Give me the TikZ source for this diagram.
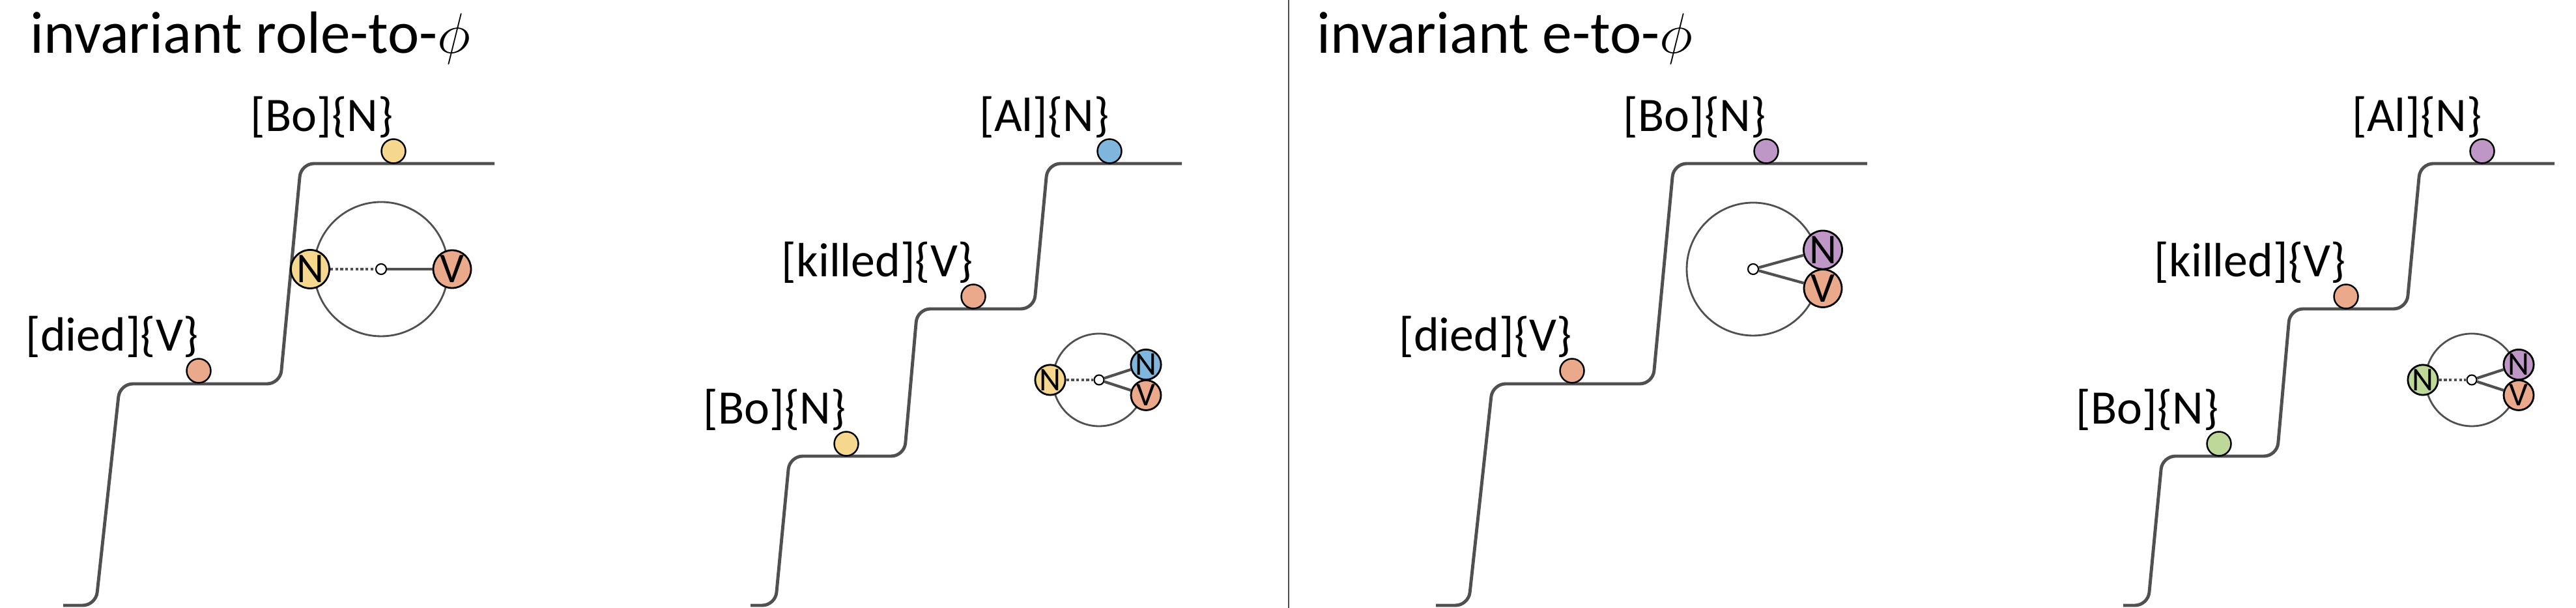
\documentclass[tikz,border=0pt]{standalone}
\usepackage{fontspec}
\setmainfont{Carlito}
\usetikzlibrary{positioning}
\definecolor{ballyellow}{HTML}{F5D88E}
\definecolor{ballorange}{HTML}{EBA98B}
\definecolor{ballblue}{HTML}{80B6DD}
\definecolor{ballpurple}{HTML}{BE97C6}
\definecolor{ballgreen}{HTML}{BDD899}
\definecolor{stairgray}{HTML}{505050}
\newcommand\ttlfont{\fontsize{26}{30}\selectfont}
\newcommand\lblfont{\fontsize{21}{24}\selectfont}
\newcommand\rolefont{\fontsize{18.5}{20}\selectfont}
\newcommand\rolesmfont{\fontsize{14.5}{16}\selectfont}
\tikzset{
  ttl/.style={font=\ttlfont, anchor=base west, inner sep=0},
  lbl/.style={font=\lblfont, anchor=south east, inner sep=0},
  stair/.style={draw=stairgray, line width=1.4pt, rounded corners=2mm},
  ball/.style={circle, draw=black, line width=0.7pt, minimum size=3.7mm, inner sep=0},
  ring/.style={circle, draw=stairgray, line width=0.8pt, inner sep=0},
  role/.style={circle, draw=black, line width=0.8pt, minimum size=5.8mm, inner sep=0, font=\rolefont},
  rolesm/.style={role, minimum size=4.6mm, font=\rolesmfont},
  hub/.style={circle, draw=black, fill=white, line width=0.6pt, minimum size=1.6mm, inner sep=0},
  spoke/.style={draw=stairgray, line width=1.2pt},
  tie/.style={spoke, dash pattern=on 1.2pt off 1pt},
  sep/.style={draw=black!70, line width=0.7pt},
}
\begin{document}
\begin{tikzpicture}
  \useasboundingbox (0,0) rectangle (39.54,9.33);
  \node[ttl] (t1) at (0.46,8.51) {invariant role-to-$\phi$};
  \node[ttl] (t2) at (20.21,8.51) {invariant e-to-$\phi$};
  \coordinate (s1) at (19.78,9.33);
  \coordinate (s2) at (19.78,0);
  \draw[sep] (s1) -- (s2);

  % role-to-phi, one verb
  \draw[stair] (0.97,0.04) -- (1.47,0.04) -- (1.84,3.44) -- (4.30,3.44) -- (4.62,6.82) -- (7.59,6.82);
  \node[ball, fill=ballorange] (a1) at (3.05,3.64) {};
  \node[lbl] (la1) at (a1.north) {[died]\{V\}};
  \node[ball, fill=ballyellow] (a2) at (6.04,7.01) {};
  \node[lbl] (la2) at (a2.north) {[Bo]\{N\}};
  \node[ring, minimum size=2.06cm] (r1) at (5.85,5.20) {};
  \node[hub] (h1) at (5.85,5.20) {};
  \node[role, fill=ballyellow] (n1) at (4.76,5.20) {N};
  \node[role, fill=ballorange] (v1) at (6.94,5.20) {V};
  \draw[tie] (n1) -- (h1);
  \draw[spoke] (h1) -- (v1);

  % role-to-phi, two nouns
  \draw[stair] (11.52,0.04) -- (11.90,0.04) -- (12.12,2.33) -- (13.88,2.33) -- (14.08,4.59) -- (15.87,4.59) -- (16.08,6.82) -- (18.14,6.82);
  \node[ball, fill=ballyellow] (b1) at (12.99,2.52) {};
  \node[lbl] (lb1) at (b1.north) {[Bo]\{N\}};
  \node[ball, fill=ballorange] (b2) at (14.94,4.78) {};
  \node[lbl] (lb2) at (b2.north) {[killed]\{V\}};
  \node[ball, fill=ballblue] (b3) at (17.03,7.01) {};
  \node[lbl] (lb3) at (b3.north) {[Al]\{N\}};
  \node[ring, minimum size=1.42cm] (r2) at (16.87,3.50) {};
  \node[hub, minimum size=1.5mm] (h2) at (16.87,3.50) {};
  \node[rolesm, fill=ballyellow] (n2) at (16.12,3.50) {N};
  \node[rolesm, fill=ballblue] (m2) at (17.59,3.735) {N};
  \node[rolesm, fill=ballorange] (v2) at (17.59,3.265) {V};
  \draw[tie] (n2) -- (h2);
  \draw[spoke] (h2) -- (m2);
  \draw[spoke] (h2) -- (v2);

  % e-to-phi, one verb
  \draw[stair] (22.04,0.04) -- (22.54,0.04) -- (22.91,3.44) -- (25.37,3.44) -- (25.69,6.82) -- (28.66,6.82);
  \node[ball, fill=ballorange] (c1) at (24.13,3.64) {};
  \node[lbl] (lc1) at (c1.north) {[died]\{V\}};
  \node[ball, fill=ballpurple] (c2) at (27.11,7.01) {};
  \node[lbl] (lc2) at (c2.north) {[Bo]\{N\}};
  \node[ring, minimum size=2.04cm] (r3) at (26.91,5.20) {};
  \node[hub] (h3) at (26.91,5.20) {};
  \node[role, fill=ballpurple] (m3) at (27.98,5.495) {N};
  \node[role, fill=ballorange] (v3) at (27.98,4.905) {V};
  \draw[spoke] (h3) -- (m3);
  \draw[spoke] (h3) -- (v3);

  % e-to-phi, two nouns
  \draw[stair] (32.59,0.04) -- (32.97,0.04) -- (33.19,2.33) -- (34.95,2.33) -- (35.15,4.59) -- (36.94,4.59) -- (37.15,6.82) -- (39.21,6.82);
  \node[ball, fill=ballgreen] (d1) at (34.06,2.52) {};
  \node[lbl] (ld1) at (d1.north) {[Bo]\{N\}};
  \node[ball, fill=ballorange] (d2) at (36.01,4.78) {};
  \node[lbl] (ld2) at (d2.north) {[killed]\{V\}};
  \node[ball, fill=ballpurple] (d3) at (38.10,7.01) {};
  \node[lbl] (ld3) at (d3.north) {[Al]\{N\}};
  \node[ring, minimum size=1.42cm] (r4) at (37.94,3.50) {};
  \node[hub, minimum size=1.5mm] (h4) at (37.94,3.50) {};
  \node[rolesm, fill=ballgreen] (n4) at (37.19,3.50) {N};
  \node[rolesm, fill=ballpurple] (m4) at (38.66,3.735) {N};
  \node[rolesm, fill=ballorange] (v4) at (38.66,3.265) {V};
  \draw[tie] (n4) -- (h4);
  \draw[spoke] (h4) -- (m4);
  \draw[spoke] (h4) -- (v4);
\end{tikzpicture}
\end{document}
